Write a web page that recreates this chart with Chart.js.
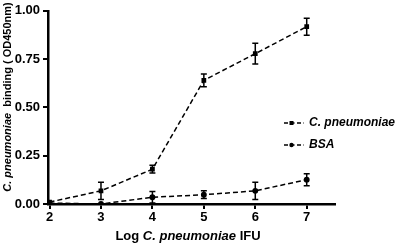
<!DOCTYPE html>
<html>
<head>
<meta charset="utf-8">
<script src="https://cdn.jsdelivr.net/npm/chart.js@4"></script>
<style>
  html, body { margin: 0; padding: 0; background: #fff; }
  #wrap { width: 411px; height: 245px; }
</style>
</head>
<body>
<div id="wrap"><canvas id="c"></canvas></div>
<script>
'use strict';

/* data */
const logIFU = [2, 3, 4, 5, 6, 7];
const cpnMean = [0.01, 0.068, 0.18, 0.64, 0.778, 0.918];
const cpnErr = [0.0, 0.045, 0.02, 0.033, 0.054, 0.044];
const bsaMean = [0.005, 0.0, 0.035, 0.048, 0.068, 0.126];
const bsaErr = [0.0, 0.0, 0.03, 0.02, 0.045, 0.031];
const xTicks = [2, 3, 4, 5, 6, 7];
const yTicks = [0, 0.25, 0.5, 0.75, 1.0];
const seriesNames = ['C. pneumoniae', 'BSA'];

const FONT = 'Liberation Sans, Arial, sans-serif';

const errBars = [cpnErr, bsaErr];

const extrasPlugin = {
    id: 'extras',
    afterDatasetsDraw(chart) {
        const { ctx, scales: { x, y } } = chart;
        ctx.save();
        ctx.strokeStyle = '#000';
        ctx.lineWidth = 1.5;
        ctx.setLineDash([]);
        chart.data.datasets.forEach((ds, di) => {
            ds.data.forEach((p, i) => {
                const e = errBars[di][i];
                if (!e) return;
                const px = x.getPixelForValue(p.x);
                const t = y.getPixelForValue(p.y + e);
                const b = y.getPixelForValue(Math.max(0, p.y - e));
                ctx.beginPath();
                ctx.moveTo(px, t); ctx.lineTo(px, b);
                ctx.moveTo(px - 3, t); ctx.lineTo(px + 3, t);
                ctx.moveTo(px - 3, b); ctx.lineTo(px + 3, b);
                ctx.stroke();
            });
        });
        ctx.restore();
    },
    afterDraw(chart) {
        const ctx = chart.ctx;
        ctx.save();
        ctx.fillStyle = '#000';
        ctx.textBaseline = 'middle';

        // legend
        const rows = [123, 145];
        chart.data.datasets.forEach((ds, i) => {
            const yy = rows[i];
            ctx.strokeStyle = '#000';
            ctx.lineWidth = 1.5;
            ctx.setLineDash([4, 2.5]);
            ctx.beginPath();
            ctx.moveTo(284, yy); ctx.lineTo(304, yy);
            ctx.stroke();
            ctx.setLineDash([]);
            ctx.beginPath();
            if (i === 0) ctx.rect(289.5, yy - 2, 4, 4);
            else ctx.arc(291.5, yy, 2.2, 0, Math.PI * 2);
            ctx.fill();
            ctx.font = 'italic bold 12px ' + FONT;
            ctx.textAlign = 'left';
            ctx.fillText(ds.label, 309, yy);
        });

        // x axis title with italic species name
        const parts = [
            ['bold 13px ' + FONT, 'Log '],
            ['italic bold 13px ' + FONT, 'C. pneumoniae'],
            ['bold 13px ' + FONT, ' IFU'],
        ];
        let total = 0;
        parts.forEach(([f, s]) => { ctx.font = f; total += ctx.measureText(s).width; });
        let cx = 188 - total / 2;
        ctx.textAlign = 'left';
        parts.forEach(([f, s]) => { ctx.font = f; ctx.fillText(s, cx, 236); cx += ctx.measureText(s).width; });

        // y axis title, rotated
        const yparts = [
            ['italic bold 11px ' + FONT, 'C. pneumoniae'],
            ['bold 11px ' + FONT, '  binding ( OD450nm)'],
        ];
        ctx.translate(8, 97);
        ctx.rotate(-Math.PI / 2);
        total = 0;
        yparts.forEach(([f, s]) => { ctx.font = f; total += ctx.measureText(s).width; });
        cx = -total / 2;
        yparts.forEach(([f, s]) => { ctx.font = f; ctx.fillText(s, cx, 0); cx += ctx.measureText(s).width; });
        ctx.restore();
    },
};

new Chart(document.getElementById('c'), {
    type: 'line',
    data: {
        datasets: [
            {
                label: seriesNames[0],
                data: logIFU.map((v, i) => ({ x: v, y: cpnMean[i] })),
                borderColor: '#000', backgroundColor: '#000',
                borderWidth: 1.5, borderDash: [5, 3],
                pointStyle: 'rect', pointRadius: 2.3, tension: 0,
            },
            {
                label: seriesNames[1],
                data: logIFU.map((v, i) => ({ x: v, y: bsaMean[i] })),
                borderColor: '#000', backgroundColor: '#000',
                borderWidth: 1.5, borderDash: [5, 3],
                pointStyle: 'circle', pointRadius: 2.2, tension: 0,
            },
        ],
    },
    options: {
        responsive: true, maintainAspectRatio: false, animation: false,
        layout: { padding: { top: 8, right: 76, left: 0, bottom: 0 } },
        plugins: { legend: { display: false }, tooltip: { enabled: false } },
        scales: {
            x: {
                type: 'linear', min: 1.97, max: 7.55,
                afterBuildTicks: s => { s.ticks = xTicks.map(v => ({ value: v })); },
                afterFit: s => { s.height = 41; },
                border: { color: '#000', width: 2.5 },
                grid: { drawOnChartArea: false, color: '#000', lineWidth: 2, tickLength: 5 },
                ticks: { color: '#000', padding: 1, font: { family: FONT, size: 13, weight: 'bold' } },
            },
            y: {
                type: 'linear', min: 0, max: 1,
                afterBuildTicks: s => { s.ticks = yTicks.map(v => ({ value: v })); },
                afterFit: s => { s.width = 48; },
                border: { color: '#000', width: 2.5 },
                grid: { drawOnChartArea: false, color: '#000', lineWidth: 2, tickLength: 5 },
                ticks: {
                    color: '#000', padding: 3,
                    font: { family: FONT, size: 13, weight: 'bold' },
                    callback: v => v.toFixed(2),
                },
            },
        },
    },
    plugins: [extrasPlugin],
});
</script>
</body>
</html>
